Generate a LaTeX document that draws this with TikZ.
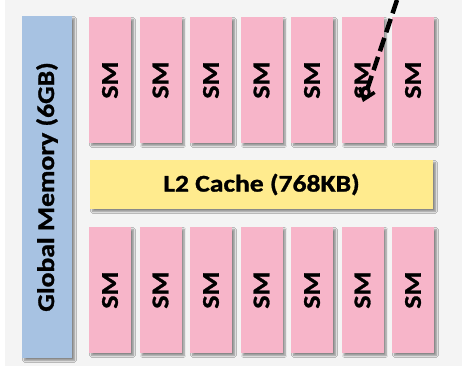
\documentclass[tikz,border=0pt]{standalone}
\usepackage{fontspec}
\setmainfont{Carlito}[FakeStretch=1.15, BoldFeatures={FakeBold=1.2}]
\usetikzlibrary{shadows.blur,arrows.meta}
\definecolor{bgGray}{HTML}{F4F4F4}
\definecolor{smPink}{HTML}{F7B5C9}
\definecolor{memBlue}{HTML}{A7C2E2}
\definecolor{cacheYellow}{HTML}{FFEB8E}
\tikzset{
  unit/.style={inner sep=0pt, font=\fontsize{24}{28}\selectfont\bfseries,
    blur shadow={shadow xshift=2.5pt, shadow yshift=-2.5pt, shadow blur steps=6, shadow opacity=45}},
  smbox/.style={unit, fill=smPink, minimum width=42pt, minimum height=126pt},
}
\begin{document}
\begin{tikzpicture}[x=1pt,y=-1pt]
	\useasboundingbox (0,0) rectangle (462,366);
	% background
	\fill[bgGray] (5,0) rectangle (462,366);
	% global memory and cache
	\node[unit, fill=memBlue, minimum width=50pt, minimum height=342pt] (gmem) at (47,187)
		{\rotatebox{90}{Global Memory (6GB)}};
	\node[unit, fill=cacheYellow, minimum width=343pt, minimum height=49pt] (l2) at (261.5,184.5)
		{L2 Cache (768KB)};
	% streaming multiprocessors
	\foreach \i in {1,...,7}{
		\pgfmathsetmacro{\cx}{110+50.5*(\i-1)}
		\node[smbox] (sm-top-\i) at (\cx,80) {\rotatebox{90}{SM}};
		\node[smbox] (sm-bot-\i) at (\cx,290) {\rotatebox{90}{SM}};
	}
	% dashed pointer
	\coordinate (ptr-start) at (397,0);
	\coordinate (ptr-end) at (363,102);
	\draw[line width=4.5pt, dash pattern=on 14pt off 6pt, -{Straight Barb[length=10pt,width=16pt,line width=3.5pt]}]
		(ptr-start) -- (ptr-end);
\end{tikzpicture}
\end{document}
